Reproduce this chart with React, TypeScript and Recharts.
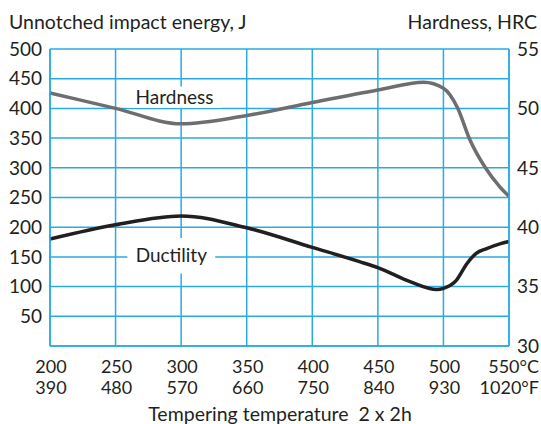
import React from 'react';
import { LineChart, Line, XAxis, YAxis, CartesianGrid, ReferenceArea } from 'recharts';

// tempering temperature, °C
const celsiusTicks = [200, 250, 300, 350, 400, 450, 500, 550];
const fahrenheitLabels = ['390', '480', '570', '660', '750', '840', '930', '1020'];
const energyTicks = [0, 50, 100, 150, 200, 250, 300, 350, 400, 450, 500];
const hardnessTicks = [30, 35, 40, 45, 50, 55];

// hardness curve (HRC, right axis)
const hardnessTemp = [200, 250, 300, 350, 400, 450, 485, 500, 511, 520, 532, 543, 550];
const hardnessHrc = [51.3, 50.0, 48.7, 49.4, 50.5, 51.55, 52.2, 51.7, 50.0, 47.4, 45.0, 43.4, 42.6];

// ductility curve (unnotched impact energy J, left axis)
const ductilityTemp = [200, 250, 300, 350, 400, 436, 450, 475, 495, 500, 510, 518, 525, 533, 543, 550];
const ductilityJ = [180, 204, 219, 199, 166, 142, 132, 108, 95, 97, 111, 139, 156, 164, 172, 176];

const hardnessData = hardnessTemp.map((t, i) => ({ t, v: hardnessHrc[i] }));
const ductilityData = ductilityTemp.map((t, i) => ({ t, v: ductilityJ[i] }));

const FONT = 'Lato, "Open Sans", sans-serif';
const TEXT = '#231f20';
const GRID = '#29abe2';

function TempTick(props: any) {
  const { x, y, payload, index } = props;
  const last = index === celsiusTicks.length - 1;
  const c = String(payload.value) + (last ? '°C' : '');
  const f = fahrenheitLabels[index] + (last ? '°F' : '');
  const tx = last ? x + 30 : x + 1;
  const anchor = last ? 'end' : 'middle';
  return (
    <g>
      <text x={tx} y={y + 19} textAnchor={anchor} fill={TEXT} fontSize={18} fontFamily={FONT}>
        {c}
      </text>
      <text x={tx} y={y + 40} textAnchor={anchor} fill={TEXT} fontSize={18} fontFamily={FONT}>
        {f}
      </text>
    </g>
  );
}

export default function App() {
  return (
    <div style={{ position: 'absolute', left: 0, top: 0, width: 541, height: 424, overflow: 'hidden', background: '#fff', fontFamily: FONT, color: TEXT }}>
      <div style={{ position: 'absolute', left: 9, top: 10, fontSize: 19.5, lineHeight: '24px', whiteSpace: 'pre' }}>Unnotched impact energy, J</div>
      <div style={{ position: 'absolute', right: 4, top: 10, fontSize: 19.5, lineHeight: '24px', whiteSpace: 'pre' }}>Hardness, HRC</div>
      <div style={{ position: 'absolute', left: 0, width: 560, top: 402, fontSize: 19.5, lineHeight: '24px', textAlign: 'center', whiteSpace: 'pre' }}>Tempering temperature  2 x 2h</div>
      <LineChart width={541} height={424} margin={{ top: 49, right: 0, bottom: 0, left: 0 }}>
        <CartesianGrid yAxisId="left" stroke={GRID} strokeWidth={1.5} />
        <XAxis
          dataKey="t"
          type="number"
          domain={[200, 550]}
          ticks={celsiusTicks}
          height={78}
          axisLine={{ stroke: GRID, strokeWidth: 1.5 }}
          tickLine={false}
          tick={<TempTick />}
          interval={0}
        />
        <YAxis
          yAxisId="left"
          domain={[0, 500]}
          ticks={energyTicks}
          width={50}
          axisLine={{ stroke: GRID, strokeWidth: 1.5 }}
          tickLine={false}
          tickMargin={2}
          tickFormatter={(v: number) => (v === 0 ? '' : String(v))}
          tick={{ fill: TEXT, fontSize: 19, fontFamily: FONT }}
          interval={0}
        />
        <YAxis
          yAxisId="right"
          orientation="right"
          domain={[30, 55]}
          ticks={hardnessTicks}
          width={32}
          axisLine={{ stroke: GRID, strokeWidth: 1.5 }}
          tickLine={false}
          tick={{ fill: TEXT, fontSize: 19, fontFamily: FONT, textAnchor: 'start' }}
          interval={0}
        />
        <ReferenceArea
          yAxisId="left"
          x1={259}
          x2={331}
          y1={401}
          y2={437}
          fill="#fff"
          fillOpacity={1}
          stroke="none"
          label={{ value: 'Hardness', position: 'center', fill: TEXT, fontSize: 19, fontFamily: FONT }}
        />
        <ReferenceArea
          yAxisId="left"
          x1={259}
          x2={326}
          y1={122}
          y2={182}
          fill="#fff"
          fillOpacity={1}
          stroke="none"
          label={{ value: 'Ductility', position: 'center', fill: TEXT, fontSize: 19, fontFamily: FONT }}
        />
        <Line
          yAxisId="right"
          data={hardnessData}
          dataKey="v"
          type="monotone"
          stroke="#6d6e70"
          strokeWidth={3.5}
          dot={false}
          isAnimationActive={false}
        />
        <Line
          yAxisId="left"
          data={ductilityData}
          dataKey="v"
          type="monotone"
          stroke={TEXT}
          strokeWidth={3.5}
          dot={false}
          isAnimationActive={false}
        />
      </LineChart>
    </div>
  );
}
